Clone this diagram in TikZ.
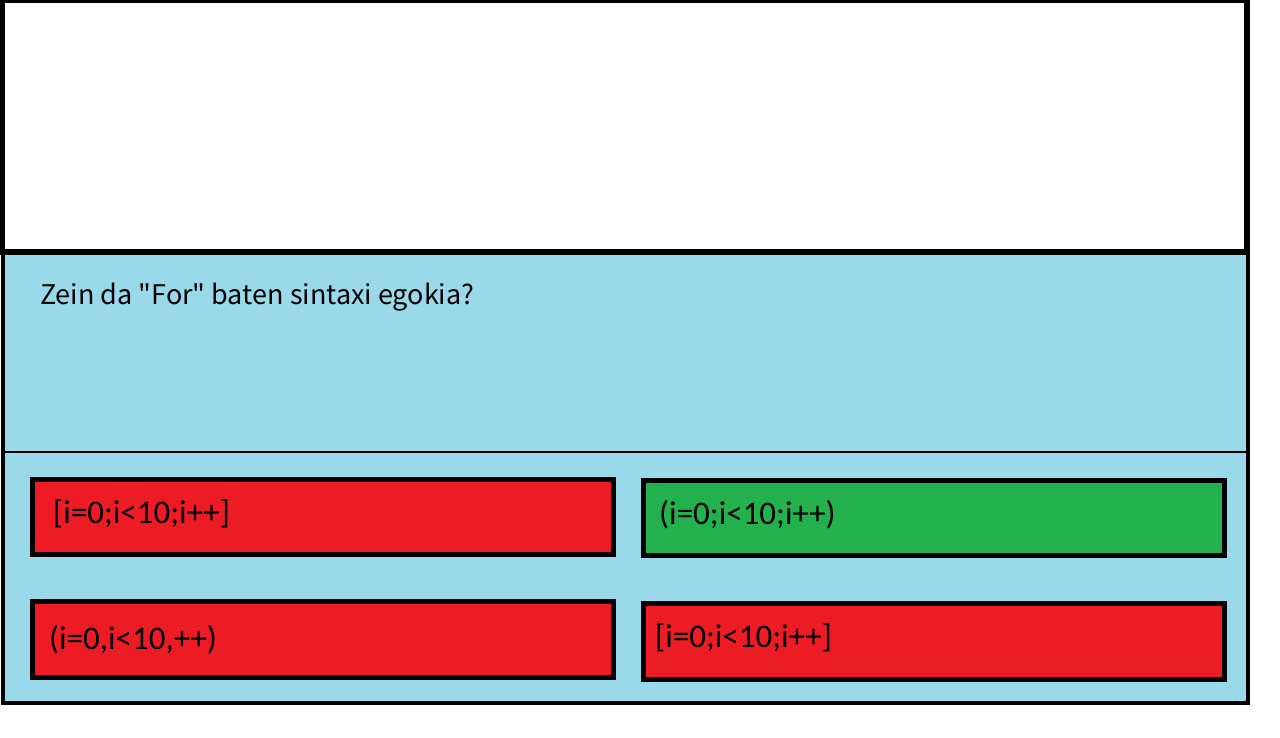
\documentclass[tikz,border=0pt]{standalone}
\usepackage{fontspec}
\usetikzlibrary{positioning}
\newfontfamily\quizfont{Noto Sans CJK JP}
\newfontfamily\answerfont{Carlito}
\definecolor{quizblue}{RGB}{153,217,234}
\definecolor{wrongred}{RGB}{237,28,36}
\definecolor{rightgreen}{RGB}{34,177,76}

\begin{document}
\begin{tikzpicture}[x=1pt,y=-1pt,
	answer/.style={draw=black, line width=5pt, minimum width=581pt, minimum height=75pt,
		inner sep=0pt, outer sep=0pt, anchor=north west},
	answertext/.style={inner sep=0pt, font=\answerfont\fontsize{33}{40}\selectfont}]
		\useasboundingbox (0,0) rectangle (1280,738);
		%galdera
		\filldraw [fill=quizblue, line width=4pt] (2.5,252) rectangle (1248,702.5);
		\draw [line width=5.5pt] (2.5,0.5) rectangle (1247,252);
		\draw [line width=2pt] (5,452) -- (1246,452);
		\node [anchor=base west, inner sep=0pt, font=\quizfont\fontsize{27}{32}\selectfont] (q) at (40,304) {Zein da "For" baten sintaxi egokia?};
		%1
		\node [answer, fill=wrongred] (a1) at (32.5,479.5) {};
		\node [answertext, right=20.5pt of a1.west, yshift=3pt] (t1) {[i=0;i<10;i++]};
		%2
		\node [answer, fill=rightgreen] (a2) at (643.5,480.5) {};
		\node [answertext, right=15.5pt of a2.west, yshift=3pt] (t2) {(i=0;i<10;i++)};
		%3
		\node [answer, fill=wrongred, minimum height=76pt] (a3) at (32.5,601.5) {};
		\node [answertext, right=16.5pt of a3.west] (t3) {(i=0,i<10,++)};
		%4
		\node [answer, fill=wrongred, minimum height=76pt] (a4) at (643.5,603.5) {};
		\node [answertext, right=11.5pt of a4.west, yshift=4pt] (t4) {[i=0;i<10;i++]};
	\end{tikzpicture}
\end{document}
